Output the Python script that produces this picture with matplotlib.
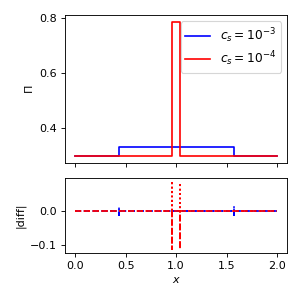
import matplotlib
matplotlib.use("Agg")
import matplotlib.pyplot as plt
from matplotlib.ticker import MultipleLocator

# step profiles of Pi for the two sound speeds
x_a = [0.0, 0.43, 0.43, 1.57, 1.57, 2.0]
pi_a = [0.3, 0.3, 0.333, 0.333, 0.3, 0.3]
x_b = [0.0, 0.96, 0.96, 1.04, 1.04, 2.0]
pi_b = [0.3, 0.3, 0.785, 0.785, 0.3, 0.3]

# differences (dashed / dotted) around the jumps
xd_a = [0.0, 0.43, 0.43, 0.43, 1.57, 1.57, 1.57, 2.0]
dn_a = [0.0, 0.0, -0.01, 0.0, 0.0, -0.011, 0.0, 0.0]
up_a = [0.0, 0.0, 0.014, 0.0, 0.0, 0.016, 0.0, 0.0]
xd_b = [0.0, 0.96, 0.96, 0.96, 1.04, 1.04, 1.04, 2.0]
dn_b = [0.0, 0.0, -0.112, 0.0, 0.0, -0.112, 0.0, 0.0]
up_b = [0.0, 0.0, 0.089, 0.0, 0.0, 0.084, 0.0, 0.0]

labels = [r"$c_s = 10^{-3}$", r"$c_s = 10^{-4}$"]


def main():
    fig = plt.figure(figsize=(3.75, 3.75), dpi=80)
    ax1 = fig.add_axes([0.217, 0.457, 0.74, 0.493])
    ax2 = fig.add_axes([0.217, 0.157, 0.74, 0.25], sharex=ax1)

    ax1.plot(x_a, pi_a, color="blue", label=labels[0])
    ax1.plot(x_b, pi_b, color="red", label=labels[1])
    ax1.set_ylabel(r"$\Pi$")
    ax1.yaxis.set_major_locator(MultipleLocator(0.2))
    ax1.legend(loc="upper right", fontsize=11, labelspacing=0.35)
    ax1.tick_params(labelbottom=False)

    ax2.plot(xd_a, up_a, color="blue", ls=":")
    ax2.plot(xd_a, dn_a, color="blue", ls="--")
    ax2.plot(xd_b, up_b, color="red", ls=":")
    ax2.plot(xd_b, dn_b, color="red", ls="--")
    ax2.set_ylim(-0.122, 0.098)
    ax2.set_ylabel("|diff|")
    ax2.set_xlabel(r"$x$")
    ax2.set_xticks([0.0, 0.5, 1.0, 1.5, 2.0])

    fig.savefig("out.png", dpi=80)


if __name__ == "__main__":
    main()
